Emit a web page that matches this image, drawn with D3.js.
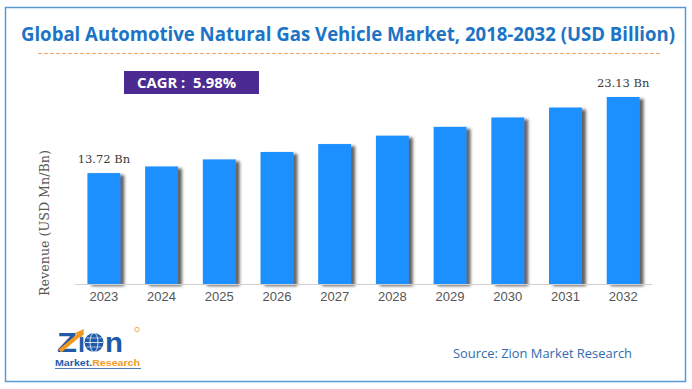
<!DOCTYPE html>
<html>
<head>
<meta charset="utf-8">
<script src="https://d3js.org/d3.v7.min.js"></script>
<style>
  body { margin: 0; background: #fff; }
  svg { display: block; }
  .tick-label { font-family: "Liberation Sans", Arial, sans-serif; font-size: 13px; fill: #555; }
  .val-label { font-family: "DejaVu Serif", "Liberation Serif", serif; font-size: 11.5px; fill: #3a3a3a; }
  .y-title { font-family: "DejaVu Serif", "Liberation Serif", serif; font-size: 12px; fill: #555; }
</style>
</head>
<body>
<svg id="chart" width="692" height="389"></svg>
<script>
  // data
  var years = ['2023', '2024', '2025', '2026', '2027', '2028', '2029', '2030', '2031', '2032'];
  var revenue = [13.72, 14.54, 15.41, 16.33, 17.31, 18.35, 19.44, 20.6, 21.83, 23.13];
  var labelled = ['2023', '2032'];
  var titleText = 'Global Automotive Natural Gas Vehicle Market, 2018-2032 (USD Billion)';
  var cagrText = 'CAGR :  5.98%';
  var sourceText = 'Source: Zion Market Research';

  var svg = d3.select('#chart');

  var defs = svg.append('defs');
  var f = defs.append('filter').attr('id', 'shadow')
    .attr('x', '-20%').attr('y', '-10%').attr('width', '160%').attr('height', '130%');
  f.append('feDropShadow')
    .attr('dx', 4).attr('dy', 2).attr('stdDeviation', 1.8)
    .attr('flood-color', '#3a3a3a').attr('flood-opacity', 0.8);

  // frame
  svg.append('rect')
    .attr('x', 5.5).attr('y', 7.5).attr('width', 680).attr('height', 374)
    .attr('fill', 'none').attr('stroke', '#5B9BD5').attr('stroke-width', 1.5);

  // title
  svg.append('text')
    .attr('x', 348).attr('y', 41)
    .attr('text-anchor', 'middle')
    .attr('textLength', 654).attr('lengthAdjust', 'spacingAndGlyphs')
    .style('font-family', '"Open Sans", "Noto Sans", sans-serif')
    .style('font-weight', 'bold').style('font-size', '19px')
    .style('fill', '#1B74C5')
    .text(titleText);

  svg.append('line')
    .attr('x1', 38).attr('x2', 662).attr('y1', 53.5).attr('y2', 53.5)
    .attr('stroke', '#F4A460').attr('stroke-width', 1.2)
    .attr('stroke-dasharray', '4,2');

  // CAGR box
  svg.append('rect')
    .attr('x', 124).attr('y', 71).attr('width', 135).attr('height', 23)
    .attr('fill', '#4B2A91');
  svg.append('text')
    .attr('x', 137).attr('y', 88)
    .attr('textLength', 99).attr('lengthAdjust', 'spacingAndGlyphs')
    .style('font-family', '"Open Sans", "Noto Sans", sans-serif')
    .style('font-weight', 'bold').style('font-size', '14px')
    .style('fill', '#fff')
    .attr('xml:space', 'preserve')
    .text(cagrText);

  // scales
  var x = d3.scaleBand().domain(years).range([75, 652]).paddingInner(0.43).paddingOuter(0.215);
  var y = d3.scaleLinear().domain([0, 23.13]).range([284, 97]);

  var g = svg.append('g');

  g.selectAll('rect.bar')
      .data(years)
    .enter().append('rect')
      .attr('class', 'bar')
      .attr('x', function(d) { return x(d); })
      .attr('y', function(d, i) { return y(revenue[i]); })
      .attr('width', x.bandwidth())
      .attr('height', function(d, i) { return y(0) - y(revenue[i]); })
      .attr('fill', '#1E90FF')
      .attr('filter', 'url(#shadow)');

  // baseline
  g.append('line')
    .attr('x1', 75).attr('x2', 652).attr('y1', 284.5).attr('y2', 284.5)
    .attr('stroke', '#d0d0d0').attr('stroke-width', 1);

  // x axis labels
  var xAxis = d3.axisBottom(x).tickSize(0).tickPadding(8);
  var ax = svg.append('g').attr('transform', 'translate(0,284)').call(xAxis);
  ax.select('.domain').remove();
  ax.attr('font-family', null).attr('font-size', null);
  ax.selectAll('text').attr('class', 'tick-label').attr('fill', null);

  // value labels
  g.selectAll('text.val')
      .data(labelled)
    .enter().append('text')
      .attr('class', 'val-label')
      .attr('text-anchor', 'middle')
      .attr('x', function(d) { return x(d) + x.bandwidth() / 2; })
      .attr('y', function(d) { return y(revenue[years.indexOf(d)]) - 10; })
      .text(function(d) { return revenue[years.indexOf(d)].toFixed(2) + ' Bn'; });

  // y title
  svg.append('text')
    .attr('class', 'y-title')
    .attr('transform', 'translate(49,223) rotate(-90)')
    .attr('text-anchor', 'middle')
    .attr('textLength', 146).attr('lengthAdjust', 'spacingAndGlyphs')
    .text('Revenue (USD Mn/Bn)');

  // source
  svg.append('text')
    .attr('x', 453).attr('y', 358)
    .attr('textLength', 179).attr('lengthAdjust', 'spacingAndGlyphs')
    .style('font-family', '"Open Sans", "Noto Sans", sans-serif')
    .style('font-size', '13px')
    .style('fill', '#2F6BAE')
    .text(sourceText);

  // logo
  var blue = '#1F5BA8', orange = '#F39A1E';
  var logo = svg.append('g');
  function logoText(txt, x0, len) {
    logo.append('text')
      .attr('x', x0).attr('y', 352)
      .attr('textLength', len).attr('lengthAdjust', 'spacingAndGlyphs')
      .style('font-family', '"Liberation Sans", Arial, sans-serif').style('font-weight', 'bold')
      .style('font-size', '28px').style('fill', blue)
      .text(txt);
  }
  logoText('Z', 57, 20);
  logoText('i', 78, 7);
  logoText('n', 105, 18);
  // orange arrow on the Z
  logo.append('path')
    .attr('d', 'M60,351 L79,335')
    .attr('stroke', orange).attr('stroke-width', 4).attr('fill', 'none');
  logo.append('path')
    .attr('d', 'M75,333 L84,329 L82,338 Z').attr('fill', orange);
  // globe
  logo.append('circle').attr('cx', 94).attr('cy', 342.5).attr('r', 9.5).attr('fill', blue);
  logo.append('ellipse').attr('cx', 94).attr('cy', 342.5).attr('rx', 4).attr('ry', 9.5)
    .attr('fill', 'none').attr('stroke', '#fff').attr('stroke-width', 0.8);
  logo.append('line').attr('x1', 85).attr('x2', 103).attr('y1', 342.5).attr('y2', 342.5)
    .attr('stroke', '#fff').attr('stroke-width', 0.8);
  logo.append('line').attr('x1', 86.5).attr('x2', 101.5).attr('y1', 338).attr('y2', 338)
    .attr('stroke', '#fff').attr('stroke-width', 0.6);
  logo.append('line').attr('x1', 86.5).attr('x2', 101.5).attr('y1', 347).attr('y2', 347)
    .attr('stroke', '#fff').attr('stroke-width', 0.6);
  logo.append('circle')
    .attr('cx', 137).attr('cy', 329.5).attr('r', 2.2)
    .attr('fill', 'none').attr('stroke', orange).attr('stroke-width', 0.8);
  var mr = logo.append('text')
    .attr('x', 55).attr('y', 366)
    .attr('textLength', 85).attr('lengthAdjust', 'spacingAndGlyphs')
    .style('font-family', '"Liberation Sans", Arial, sans-serif').style('font-weight', 'bold')
    .style('font-size', '9.5px');
  mr.append('tspan').style('fill', blue).text('Market.');
  mr.append('tspan').style('fill', orange).text('Research');
  logo.append('line')
    .attr('x1', 55).attr('x2', 141).attr('y1', 368.5).attr('y2', 368.5)
    .attr('stroke', blue).attr('stroke-width', 0.8);
</script>
</body>
</html>
